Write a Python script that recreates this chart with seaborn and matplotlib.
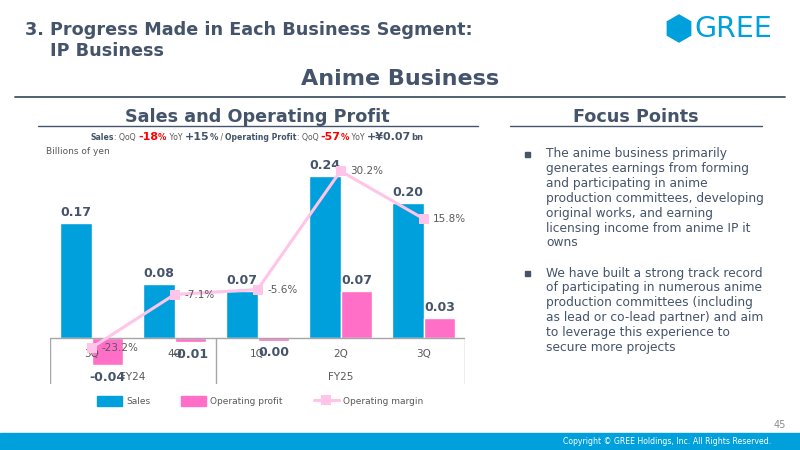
import matplotlib
matplotlib.use("Agg")
import matplotlib.pyplot as plt
from matplotlib.patches import Patch, RegularPolygon, Rectangle
from matplotlib.lines import Line2D
import seaborn as sns
import pandas as pd
import numpy as np

# data
quarters = ["3Q", "4Q", "1Q", "2Q", "3Q"]
fiscal_years = ["FY24", "FY25"]
sales = [0.17, 0.08, 0.07, 0.24, 0.20]
op_profit = [-0.04, -0.006, -0.004, 0.07, 0.03]
op_margin = [-23.2, -7.1, -5.6, 30.2, 15.8]

BLUE = "#00a0dc"
PINK = "#ff6ec7"
LINE_PINK = "#ffc4e8"
DARK = "#44546a"
GRAY = "#595959"

sns.set_theme(style="white")
plt.rcParams['font.family'] = ['DejaVu Sans']

fig = plt.figure(figsize=(8, 4.5), dpi=100)
fig.patch.set_facecolor("white")


def fx(x):
    return x / 800


def fy(y):
    return 1 - y / 450


def hline(x0, x1, y, color=DARK, lw=1.2):
    fig.add_artist(Line2D([fx(x0), fx(x1)], [fy(y), fy(y)], color=color, lw=lw,
                          transform=fig.transFigure))


# header
fig.text(fx(25), fy(30), "3. Progress Made in Each Business Segment:", fontsize=12.7,
         fontweight="bold", color=DARK, va="center")
fig.text(fx(50), fy(51), "IP Business", fontsize=12.7, fontweight="bold", color=DARK, va="center")
fig.text(fx(400), fy(79), "Anime Business", fontsize=16, fontweight="bold", color=DARK,
         ha="center", va="center")
hline(15, 785, 97, lw=1.3)

# logo (pointy-top hexagon, drawn in inches so it keeps its shape)
fig.add_artist(RegularPolygon((6.79, 4.5 - 0.285), numVertices=6, radius=0.135,
                              orientation=0, color=BLUE, transform=fig.dpi_scale_trans))
fig.text(fx(694), fy(29), "GREE", fontsize=20.5, color=BLUE, va="center")

fig.text(fx(257), fy(117), "Sales and Operating Profit", fontsize=12.7, fontweight="bold",
         color=DARK, ha="center", va="center")
hline(38, 478, 126, lw=1.0)
fig.text(fx(636), fy(117), "Focus Points", fontsize=12.7, fontweight="bold",
         color=DARK, ha="center", va="center")
hline(510, 762, 126, lw=1.0)

# summary line with mixed styles
pieces = [
    ("Sales", 5.6, DARK, "bold"), (": QoQ ", 5.6, GRAY, "normal"),
    ("-18", 8, "#ff0000", "bold"), ("%", 6, "#ff0000", "bold"),
    (" YoY ", 5.6, GRAY, "normal"), ("+15", 8, DARK, "bold"), ("%", 6, DARK, "bold"),
    (" / ", 5.6, GRAY, "normal"), ("Operating Profit", 5.6, DARK, "bold"),
    (": QoQ ", 5.6, GRAY, "normal"), ("-57", 8, "#ff0000", "bold"),
    ("%", 6, "#ff0000", "bold"), (" YoY ", 5.6, GRAY, "normal"),
    ("+\u00a50.07", 8, DARK, "bold"), ("bn", 6, DARK, "bold"),
]
renderer = fig.canvas.get_renderer()
texts = []
x = 0.0
for s, size, color, weight in pieces:
    t = fig.text(x, fy(140), s, fontsize=size, color=color, fontweight=weight,
                 va="baseline")
    w = t.get_window_extent(renderer).width / 800
    texts.append((t, x))
    x += w
start = fx(257) - x / 2
for t, off in texts:
    t.set_x(start + off)

fig.text(fx(46), fy(151), "Billions of yen", fontsize=6.5, color=GRAY, va="center")

# chart
ax = fig.add_axes([fx(50), fy(384), fx(465) - fx(50), (384 - 150) / 450])
df = pd.DataFrame({
    "pos": list(range(5)) * 2,
    "value": sales + op_profit,
    "series": ["Sales"] * 5 + ["Operating profit"] * 5,
})
sns.barplot(data=df, x="pos", y="value", hue="series", palette=[BLUE, PINK],
            width=0.77, ax=ax, legend=False, saturation=1, errorbar=None)
ax.set_xlim(-0.5, 4.5)
ylo, yhi = -(384 - 338) / 676, (338 - 150) / 676
ax.set_ylim(ylo, yhi)
ax.axis("off")

ax.axhline(0, color="#a6a6a6", lw=1.0, zorder=1)
ax.vlines([-0.5, 1.5, 4.5], ylo, 0, color="#a6a6a6", lw=1.0)


def fmt(v):
    return "0.00" if round(v, 2) == 0 else f"{v:.2f}"


bw = 0.385
for i in range(5):
    ax.annotate(fmt(sales[i]), (i - bw / 2, sales[i]), xytext=(0, 3),
                textcoords="offset points", ha="center", va="bottom",
                fontsize=9, fontweight="bold", color=DARK)
    v = op_profit[i]
    ax.annotate(fmt(v), (i + bw / 2, v), xytext=(0, 3 if v > 0 else -4),
                textcoords="offset points", ha="center",
                va="bottom" if v > 0 else "top", fontsize=9, fontweight="bold",
                color=DARK, zorder=5)
    ax.text(i, -16 / 676, quarters[i], fontsize=7.5, color=GRAY, ha="center",
            va="center", zorder=4)
ax.text(0.5, -39 / 676, fiscal_years[0], fontsize=7.5, color=GRAY, ha="center", va="center")
ax.text(3, -39 / 676, fiscal_years[1], fontsize=7.5, color=GRAY, ha="center", va="center")

ax2 = ax.twinx()
sns.lineplot(x=np.arange(5), y=op_margin, ax=ax2, color=LINE_PINK, lw=2.2,
             marker="s", markersize=7, markeredgewidth=0, markerfacecolor=LINE_PINK)
ax2.set_xlim(-0.5, 4.5)
ax2.set_ylim((271 - 384) / 3.31, (271 - 150) / 3.31)
ax2.axis("off")
for i, m in enumerate(op_margin):
    ax2.annotate(f"{m:.1f}%", (i, m), xytext=(7, 0), textcoords="offset points",
                 ha="left", va="center", fontsize=7.5, color=GRAY)

handles = [Patch(color=BLUE, label="Sales"), Patch(color=PINK, label="Operating profit"),
           Line2D([], [], color=LINE_PINK, lw=2.2, marker="s", markersize=7,
                  markeredgewidth=0, label="Operating margin")]
fig.legend(handles=handles, loc="center", bbox_to_anchor=(fx(260), fy(401)), ncol=3,
           frameon=False, fontsize=6.5, labelcolor=GRAY, handlelength=2.8,
           handleheight=1.3, columnspacing=3.4, handletextpad=0.45)

# focus points
bullet1 = ["The anime business primarily", "generates earnings from forming",
           "and participating in anime", "production committees, developing",
           "original works, and earning", "licensing income from anime IP it", "owns"]
bullet2 = ["We have built a strong track record", "of participating in numerous anime",
           "production committees (including", "as lead or co-lead partner) and aim",
           "to leverage this experience to", "secure more projects"]
for y0, lines in ((154, bullet1), (273, bullet2)):
    fig.add_artist(Rectangle((fx(525), fy(y0 + 2.5)), 5 / 800, 5 / 450, color=DARK,
                             transform=fig.transFigure))
    for k, line in enumerate(lines):
        fig.text(fx(546), fy(y0 + k * 14.8), line, fontsize=8.8, color=DARK, va="center")

# footer
fig.text(fx(786), fy(425), "45", fontsize=7, color="#8c8c8c", ha="right", va="center")
fig.add_artist(Rectangle((0, 0), 1, 17 / 450, color=BLUE, transform=fig.transFigure))
fig.text(fx(771), fy(442), "Copyright \u00a9 GREE Holdings, Inc. All Rights Reserved.",
         fontsize=5.6, color="white", ha="right", va="center")

fig.savefig("out.png", dpi=100)
